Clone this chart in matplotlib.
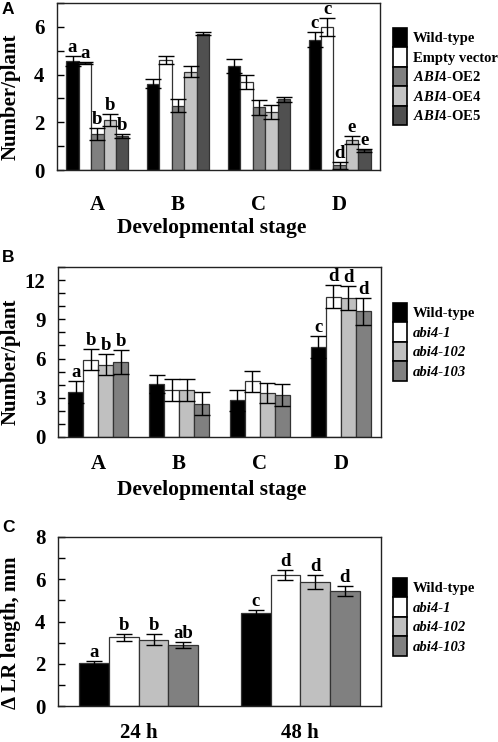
import matplotlib
matplotlib.use('Agg')
import matplotlib.pyplot as plt
from matplotlib.patches import Patch
from matplotlib.ticker import MultipleLocator
import numpy as np

plt.rcParams['font.family'] = ['Liberation Serif', 'DejaVu Serif']
plt.rcParams['font.weight'] = 'bold'
plt.rcParams['mathtext.fontset'] = 'custom'
plt.rcParams['mathtext.it'] = 'Liberation Serif:italic:bold'
plt.rcParams['mathtext.rm'] = 'Liberation Serif:bold'

# ---------------- Data ----------------
# Panel A
stagesA = ['A', 'B', 'C', 'D']
labelsA = ['Wild-type', 'Empty vector', r'$\mathit{ABI4}$-OE2',
           r'$\mathit{ABI4}$-OE4', r'$\mathit{ABI4}$-OE5']
A_wt = [4.58, 3.62, 4.37, 5.47]
A_wt_err = [0.20, 0.20, 0.30, 0.32]
A_ev = [4.49, 4.62, 3.68, 6.01]
A_ev_err = [0.03, 0.17, 0.30, 0.38]
A_oe2 = [1.50, 2.70, 2.62, 0.20]
A_oe2_err = [0.25, 0.27, 0.30, 0.15]
A_oe4 = [2.10, 4.12, 2.42, 1.25]
A_oe4_err = [0.25, 0.22, 0.30, 0.18]
A_oe5 = [1.42, 5.72, 2.96, 0.82]
A_oe5_err = [0.08, 0.05, 0.10, 0.07]
A_letters = [['a', '', '', 'c'], ['a', '', '', 'c'], ['b', '', '', 'd'],
             ['b', '', '', 'e'], ['b', '', '', 'e']]

# Panel B
stagesB = ['A', 'B', 'C', 'D']
labelsB = ['Wild-type', 'abi4-1', 'abi4-102', 'abi4-103']
B_wt = [3.42, 4.06, 2.81, 6.87]
B_wt_err = [0.85, 0.66, 0.80, 0.85]
B_a1 = [5.92, 3.60, 4.26, 10.73]
B_a1_err = [0.82, 0.85, 0.80, 0.90]
B_a102 = [5.54, 3.60, 3.37, 10.65]
B_a102_err = [0.77, 0.85, 0.77, 0.90]
B_a103 = [5.72, 2.53, 3.22, 9.62]
B_a103_err = [0.90, 0.88, 0.85, 1.03]
B_letters = [['a', '', '', 'c'], ['b', '', '', 'd'], ['b', '', '', 'd'], ['b', '', '', 'd']]

# Panel C
timesC = ['24 h', '48 h']
labelsC = ['Wild-type', 'abi4-1', 'abi4-102', 'abi4-103']
C_wt = [2.03, 4.38]
C_wt_err = [0.08, 0.17]
C_a1 = [3.25, 6.20]
C_a1_err = [0.17, 0.24]
C_a102 = [3.14, 5.89]
C_a102_err = [0.25, 0.33]
C_a103 = [2.89, 5.44]
C_a103_err = [0.16, 0.24]
C_letters = [['a', 'c'], ['b', 'd'], ['b', 'd'], ['ab', 'd']]

colorsA = ['#000000', '#ffffff', '#808080', '#c4c4c4', '#505050']
colorsB = ['#000000', '#ffffff', '#c0c0c0', '#808080']

W, H = 498, 742
fig = plt.figure(figsize=(W / 100, H / 100), dpi=100)


def add_ax(left, right, top, bottom):
    return fig.add_axes([left / W, 1 - bottom / H, (right - left) / W, (bottom - top) / H])


def draw(ax, cats, vals, errs, colors, width, letters, ymax, major, pad_x):
    n = len(vals)
    x = np.arange(len(cats))
    for i in range(n):
        pos = x + (i - (n - 1) / 2) * width
        ax.bar(pos, vals[i], width, color=colors[i], edgecolor='#333333', linewidth=0.9,
               yerr=errs[i], capsize=5.5,
               error_kw=dict(elinewidth=1.0, capthick=1.0, ecolor='black'))
        for p, v, e, t in zip(pos, vals[i], errs[i], letters[i]):
            if t:
                ax.annotate(t, (p, v + e), xytext=(0, 0), textcoords='offset points',
                            ha='center', va='bottom', fontsize=13.5, fontweight='bold')
    ax.set_xlim(-0.5, len(cats) - 0.5)
    ax.set_ylim(0, ymax)
    ax.set_xticks(x)
    ax.set_xticklabels(cats)
    ax.yaxis.set_major_locator(MultipleLocator(major))
    ax.yaxis.set_minor_locator(MultipleLocator(1))
    ax.tick_params(axis='x', length=0, pad=pad_x, labelsize=15)
    ax.tick_params(axis='y', which='both', direction='in', length=5, width=1.0,
                   labelsize=15, pad=9)
    for s in ax.spines.values():
        s.set_linewidth(1.0)
        s.set_color('#222222')


def legend(ax, labels, colors, top, italic_idx):
    handles = [Patch(facecolor=c, edgecolor='black', linewidth=1.2) for c in colors]
    leg = ax.legend(handles, labels, loc='upper left',
                    bbox_to_anchor=(392.7 / W, 1 - top / H), bbox_transform=fig.transFigure,
                    frameon=False, fontsize=10.5, labelspacing=0, handleheight=1.67,
                    handlelength=0.95, handletextpad=0.45, borderpad=0, borderaxespad=0)
    for i, t in enumerate(leg.get_texts()):
        t.set_fontweight('bold')
        if i in italic_idx:
            t.set_fontstyle('italic')


# Panel A
axA = add_ax(57, 380, 3, 170)
draw(axA, stagesA, [A_wt, A_ev, A_oe2, A_oe4, A_oe5],
     [A_wt_err, A_ev_err, A_oe2_err, A_oe4_err, A_oe5_err],
     colorsA, 0.154, A_letters, 7, 2, 18)
legend(axA, labelsA, colorsA, 28, [])

# Panel B
axB = add_ax(58, 381, 267, 437)
draw(axB, stagesB, [B_wt, B_a1, B_a102, B_a103],
     [B_wt_err, B_a1_err, B_a102_err, B_a103_err],
     colorsB, 0.185, B_letters, 13, 3, 12)
legend(axB, labelsB, colorsB, 303, [1, 2, 3])

# Panel C
axC = add_ax(58, 381, 537, 706)
draw(axC, timesC, [C_wt, C_a1, C_a102, C_a103],
     [C_wt_err, C_a1_err, C_a102_err, C_a103_err],
     colorsB, 0.184, C_letters, 8, 2, 12)
legend(axC, labelsC, colorsB, 578, [1, 2, 3])

# Axis labels
fig.text(212 / W, 1 - 228 / H, 'Developmental stage', ha='center', va='center',
         fontsize=15.5, fontweight='bold')
fig.text(212 / W, 1 - 490 / H, 'Developmental stage', ha='center', va='center',
         fontsize=15.5, fontweight='bold')
fig.text(11 / W, 1 - 97 / H, 'Number/plant', ha='center', va='center', rotation=90,
         fontsize=15, fontweight='bold')
fig.text(11 / W, 1 - 362 / H, 'Number/plant', ha='center', va='center', rotation=90,
         fontsize=15, fontweight='bold')
fig.text(11 / W, 1 - 633 / H, '\u0394 LR length, mm', ha='center', va='center', rotation=90,
         fontsize=15, fontweight='bold')

# Panel letters
for lab, y in [('A', 10), ('B', 258), ('C', 527)]:
    fig.text(2 / W, 1 - y / H, lab, ha='left', va='center', fontsize=12.5,
             fontweight='bold', family=['Liberation Sans', 'DejaVu Sans'])

fig.savefig('out.png', dpi=100)
